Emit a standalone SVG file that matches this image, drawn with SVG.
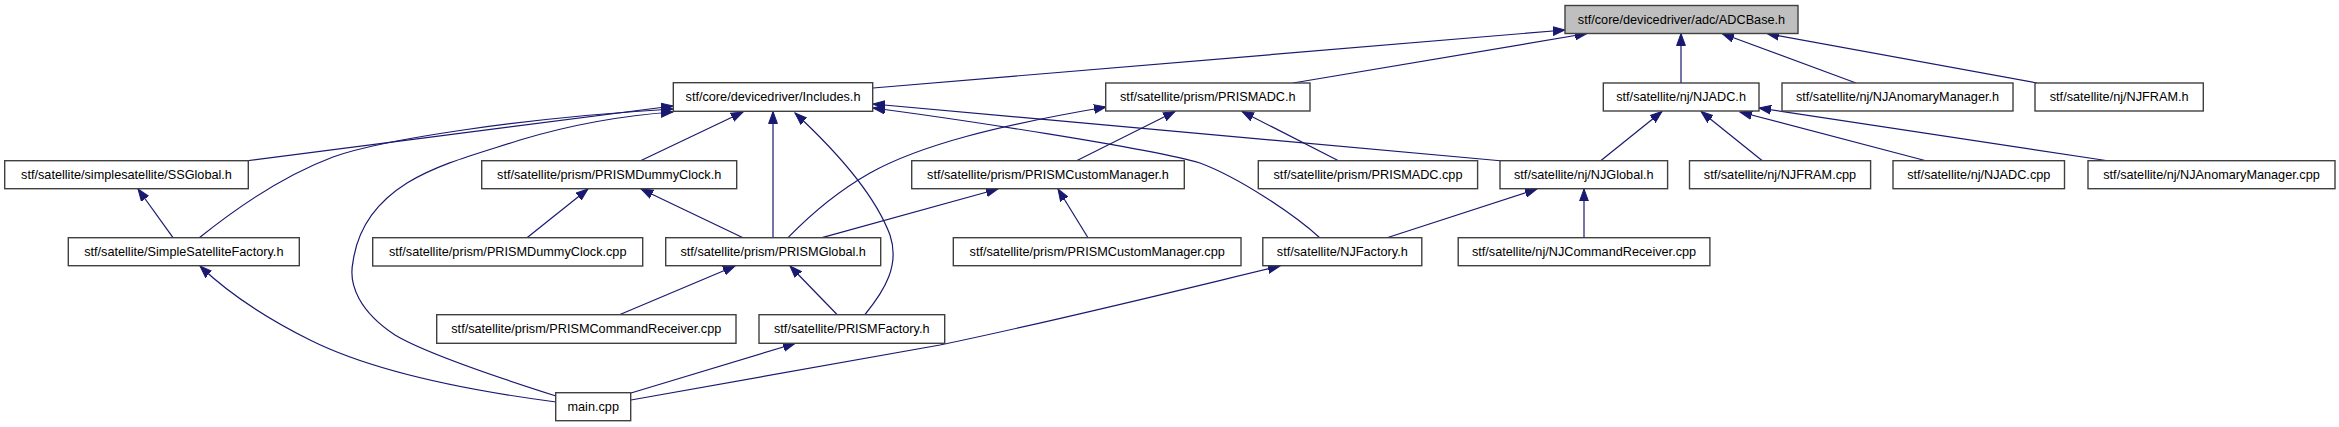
<svg xmlns="http://www.w3.org/2000/svg" width="2339" height="427" viewBox="0 0 2339 427">
<style>
.n rect{fill:#ffffff;stroke:#404040;stroke-width:1.4}
.n.g rect{fill:#bfbfbf}
.n text{font-family:"Liberation Sans",Arial,sans-serif;font-size:12.7px;fill:#000;text-anchor:middle}
.e path{fill:none;stroke:#191970;stroke-width:1.2;marker-end:url(#a)}
</style>
<defs>
<marker id="a" markerWidth="13" markerHeight="10" refX="12" refY="5" orient="auto" markerUnits="userSpaceOnUse">
<path d="M0,0.6 L12,5 L0,9.4 z" fill="#191970" stroke="#191970" stroke-width="1"/>
</marker>
</defs>
<rect width="2339" height="427" fill="#ffffff"/>
<g id="edges" class="e">
<path d="M873,88 L1565,30"/>
<path d="M1293,83 L1587,33.5"/>
<path d="M1681,83 L1681,33.5"/>
<path d="M1856,83 L1722,33.5"/>
<path d="M2037,83 L1767,33.5"/>
<path d="M245,161 L673,106"/>
<path d="M199,238 C240,205 285,175 333,157 C380,140 520,118 673,109"/>
<path d="M556,396 C490,375 420,350 395,335 C360,312 348,285 353,262 C358,225 380,200 407,183 C440,163 480,153 520,140 C580,122 630,115 673,112"/>
<path d="M640,161 L743,112"/>
<path d="M773,237.7 L773,111.5"/>
<path d="M865,314.5 C885,290 900,265 890,235 C875,195 835,150 795,113"/>
<path d="M1503,161 L873,104"/>
<path d="M1320,238 C1295,215 1240,178 1200,163 C1150,148 950,118 873,108"/>
<path d="M788,237.7 C810,215 840,190 870,173 C920,145 1000,125 1106,107"/>
<path d="M1077,160.5 L1175,111.5"/>
<path d="M1338,160.5 L1242,111.5"/>
<path d="M527,237.7 L588,189"/>
<path d="M743,237.7 L641,189"/>
<path d="M822,237.7 L998,189"/>
<path d="M1088,237.7 L1058,189"/>
<path d="M1601,160.5 L1662,111.5"/>
<path d="M1762,160.5 L1701,111.5"/>
<path d="M1925,160.5 L1740,112"/>
<path d="M2106,160.5 L1759,108"/>
<path d="M173,237.7 L138,189"/>
<path d="M1387,237.7 L1537,189"/>
<path d="M1584,237.7 L1584,189"/>
<path d="M620,314.5 L735,266"/>
<path d="M837,314.5 L790,266"/>
<path d="M556,402 C480,392 380,375 310,340 C260,315 225,290 200,266"/>
<path d="M631,393 L795,343.5"/>
<path d="M631,400 C700,388 800,370 940,345 C1060,320 1180,290 1280,266"/>
</g>
<g id="n_adcbase" class="n g"><rect x="1565" y="5.5" width="233" height="28"/><text x="1681.5" y="23.5">stf/core/devicedriver/adc/ADCBase.h</text></g>
<g id="n_includes" class="n"><rect x="673.3" y="82.7" width="199.4" height="28.6"/><text x="773" y="100.7">stf/core/devicedriver/Includes.h</text></g>
<g id="n_prismadc_h" class="n"><rect x="1105.7" y="83" width="204.3" height="28"/><text x="1207.8" y="101">stf/satellite/prism/PRISMADC.h</text></g>
<g id="n_njadc_h" class="n"><rect x="1603.3" y="83" width="155.7" height="28"/><text x="1681.1" y="101">stf/satellite/nj/NJADC.h</text></g>
<g id="n_njanom_h" class="n"><rect x="1782" y="83" width="231" height="28"/><text x="1897.5" y="101">stf/satellite/nj/NJAnomaryManager.h</text></g>
<g id="n_njfram_h" class="n"><rect x="2035" y="83" width="168.3" height="28"/><text x="2119.2" y="101">stf/satellite/nj/NJFRAM.h</text></g>
<g id="n_ssglobal" class="n"><rect x="4.7" y="160.7" width="243.6" height="28"/><text x="126.5" y="178.7">stf/satellite/simplesatellite/SSGlobal.h</text></g>
<g id="n_dummyclock_h" class="n"><rect x="481.7" y="160.7" width="255" height="28"/><text x="609.2" y="178.7">stf/satellite/prism/PRISMDummyClock.h</text></g>
<g id="n_custom_h" class="n"><rect x="911.7" y="160.7" width="272.6" height="28"/><text x="1048" y="178.7">stf/satellite/prism/PRISMCustomManager.h</text></g>
<g id="n_prismadc_cpp" class="n"><rect x="1258.3" y="160.7" width="219.3" height="28"/><text x="1368" y="178.7">stf/satellite/prism/PRISMADC.cpp</text></g>
<g id="n_njglobal" class="n"><rect x="1500" y="160.7" width="167.6" height="28"/><text x="1583.8" y="178.7">stf/satellite/nj/NJGlobal.h</text></g>
<g id="n_njfram_cpp" class="n"><rect x="1689.5" y="160.7" width="181.1" height="28"/><text x="1780" y="178.7">stf/satellite/nj/NJFRAM.cpp</text></g>
<g id="n_njadc_cpp" class="n"><rect x="1893" y="160.7" width="171.5" height="28"/><text x="1978.8" y="178.7">stf/satellite/nj/NJADC.cpp</text></g>
<g id="n_njanom_cpp" class="n"><rect x="2088" y="160.7" width="247" height="28"/><text x="2211.5" y="178.7">stf/satellite/nj/NJAnomaryManager.cpp</text></g>
<g id="n_ssfactory" class="n"><rect x="68.3" y="237.7" width="231" height="28"/><text x="183.8" y="255.7">stf/satellite/SimpleSatelliteFactory.h</text></g>
<g id="n_dummyclock_cpp" class="n"><rect x="372.7" y="237.7" width="270" height="28.3"/><text x="507.7" y="255.7">stf/satellite/prism/PRISMDummyClock.cpp</text></g>
<g id="n_prismglobal" class="n"><rect x="665.7" y="237.7" width="215" height="28"/><text x="773.2" y="255.7">stf/satellite/prism/PRISMGlobal.h</text></g>
<g id="n_custom_cpp" class="n"><rect x="953.3" y="237.7" width="287.7" height="28"/><text x="1097.2" y="255.7">stf/satellite/prism/PRISMCustomManager.cpp</text></g>
<g id="n_njfactory" class="n"><rect x="1262.8" y="237.7" width="159" height="28"/><text x="1342.3" y="255.7">stf/satellite/NJFactory.h</text></g>
<g id="n_njcmd" class="n"><rect x="1458.2" y="237.7" width="251.7" height="28"/><text x="1584" y="255.7">stf/satellite/nj/NJCommandReceiver.cpp</text></g>
<g id="n_prismcmd" class="n"><rect x="436.7" y="314.7" width="299.3" height="28.6"/><text x="586.3" y="332.7">stf/satellite/prism/PRISMCommandReceiver.cpp</text></g>
<g id="n_prismfactory" class="n"><rect x="759" y="314.7" width="185.7" height="28.6"/><text x="851.8" y="332.7">stf/satellite/PRISMFactory.h</text></g>
<g id="n_main" class="n"><rect x="555.7" y="392.7" width="75" height="28"/><text x="593.2" y="410.7">main.cpp</text></g>
</svg>
